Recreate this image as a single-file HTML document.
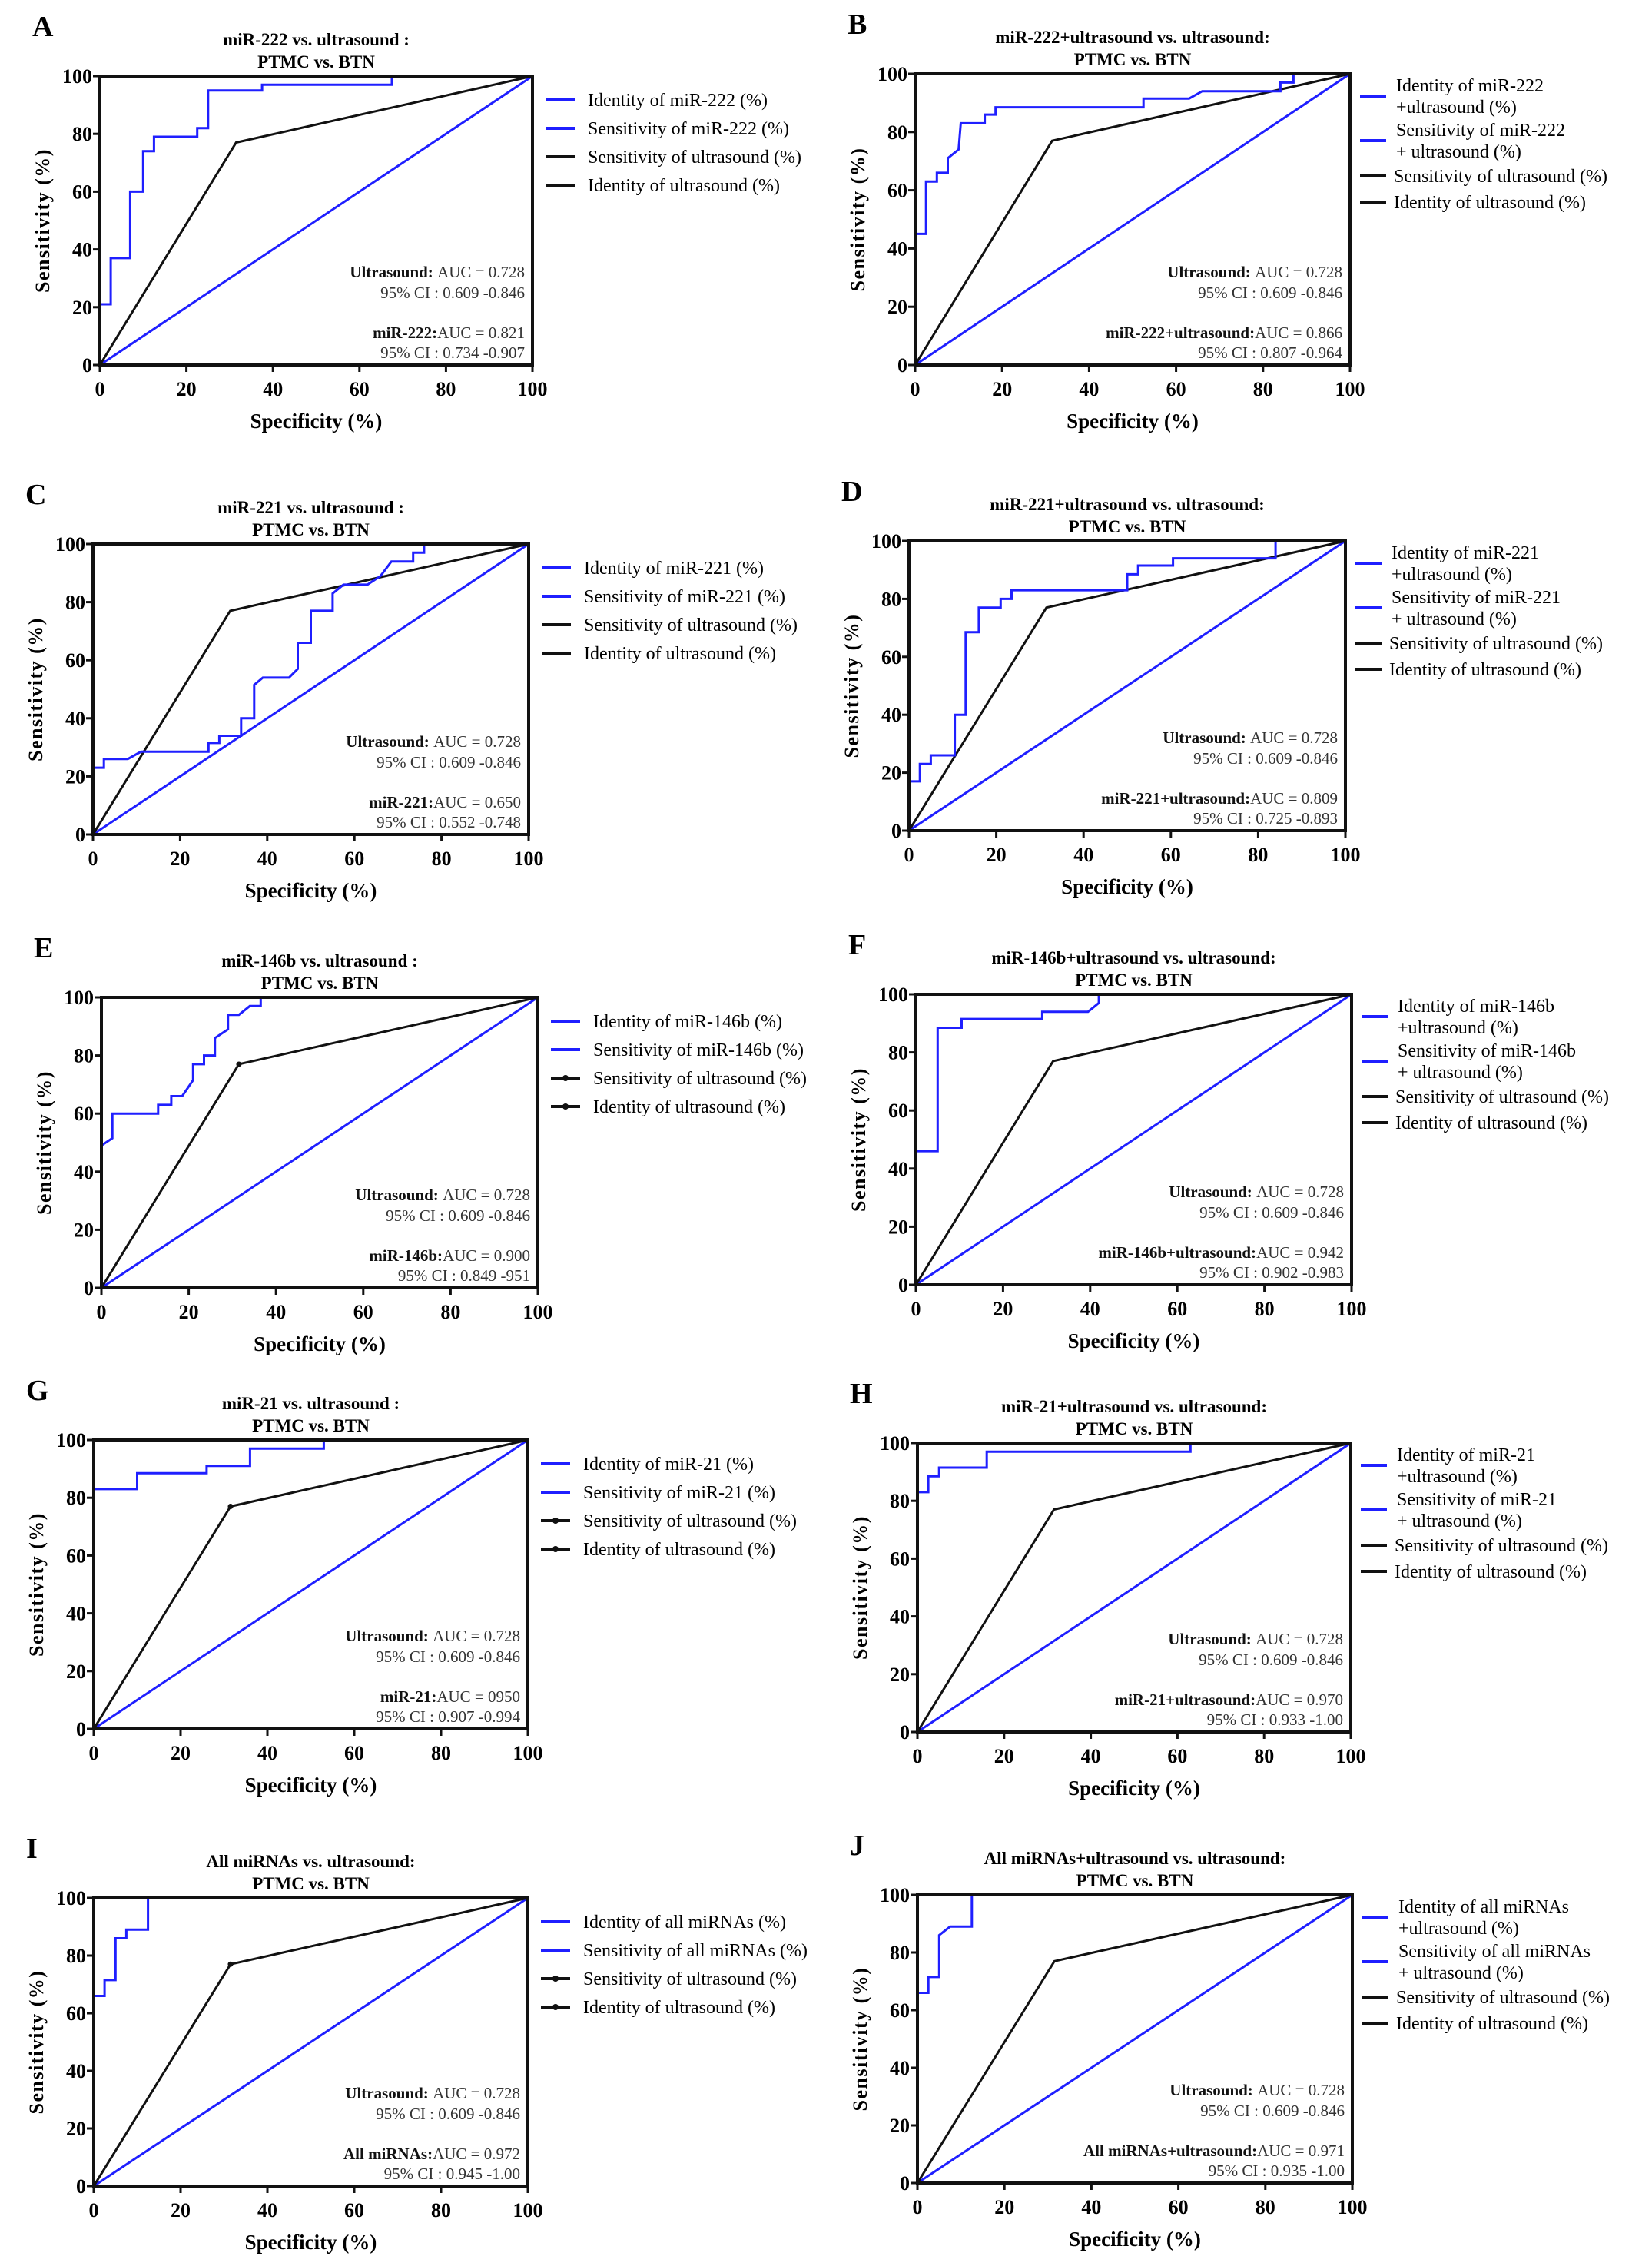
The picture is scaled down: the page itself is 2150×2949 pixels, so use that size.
<!DOCTYPE html>
<html><head><meta charset="utf-8"><style>
html,body{margin:0;padding:0;background:#fff;}
svg{display:block;font-family:"Liberation Serif",serif;}
</style></head><body>
<svg id="fig" width="2150" height="2949" viewBox="0 0 2150 2949" xmlns="http://www.w3.org/2000/svg"></svg>
<script>
const ticks = [0,20,40,60,80,100];
const usX = [0,31.5,100];
const usY = [0,77,100];
const diagX = [0,100];
const diagY = [0,100];
const rocA_x = [0,0,2.5,2.5,7,7,10,10,12.5,12.5,22.5,22.5,25,25,37.5,37.5,67.5,67.5,100];
const rocA_y = [0,21,21,37,37,60,60,74,74,79,79,82,82,95,95,97,97,100,100];
const rocB_x = [0,0,2.5,2.5,5,5,7.5,7.5,10,10.5,16,16,18.5,18.5,52.5,52.5,63,66,84,84,87,87,100];
const rocB_y = [0,45,45,63,63,66,66,71,74,83,83,86,86,88.5,88.5,91.5,91.5,94,94,97,97,100,100];
const rocC_x = [0,0,2.5,2.5,8,11,26.5,26.5,29,29,34,34,37,37,39,45,47,47,50,50,55,55,57.5,63,66,68.5,73.5,73.5,76,76,100];
const rocC_y = [0,23,23,26,26,28.5,28.5,31.5,31.5,34,34,40,40,51.5,54,54,57,66,66,77,77,83,86,86,89,94,94,97,97,100,100];
const rocD_x = [0,0,2.5,2.5,5,5,10.5,10.5,13,13,16,16,21,21,23.5,23.5,50,50,52.5,52.5,60.5,60.5,84,84,100];
const rocD_y = [0,17,17,23,23,26,26,40,40,68.5,68.5,77,77,80,80,83,83,88.5,88.5,91.5,91.5,94,94,100,100];
const rocE_x = [0,0,2.5,2.5,13,13,16,16,18.5,21,21,23.5,23.5,26,26,29,29,31.5,34,36.5,36.5,100];
const rocE_y = [0,49,51.5,60,60,63,63,66,66,71.5,77,77,80,80,86,89,94,94,97,97,100,100];
const rocF_x = [0,0,5,5,10.5,10.5,29,29,39.5,42,42,100];
const rocF_y = [0,46,46,88.5,88.5,91.5,91.5,94,94,97,100,100];
const rocG_x = [0,0,10,10,26,26,36,36,53,53,100];
const rocG_y = [0,83,83,88.5,88.5,91,91,97,97,100,100];
const rocH_x = [0,0,2.5,2.5,5,5,16,16,63,63,100];
const rocH_y = [0,83,83,88.5,88.5,91.5,91.5,97,97,100,100];
const rocI_x = [0,0,2.5,2.5,5,5,7.5,7.5,12.5,12.5,100];
const rocI_y = [0,66,66,71.5,71.5,86,86,89,89,100,100];
const rocJ_x = [0,0,2.5,2.5,5,5,7.5,12.5,12.5,100];
const rocJ_y = [0,66,66,71.5,71.5,86,89,89,100,100];

const NS = "http://www.w3.org/2000/svg";
const svg = document.getElementById('fig');
function mk(tag, attrs, parent, text){
  const e = document.createElementNS(NS, tag);
  for (const k in attrs) e.setAttribute(k, attrs[k]);
  if (text !== undefined) e.textContent = text;
  (parent||svg).appendChild(e);
  return e;
}
const BLUE = "#1f1fff";
const panels = [
 {id:'a',L:'A',l:130,r:693,t:99,b:475,title:['miR-222 vs. ultrasound :','PTMC vs. BTN'],two:false,
  leg:['Identity of miR-222 (%)','Sensitivity of miR-222 (%)','Sensitivity of ultrasound (%)','Identity of ultrasound (%)'],
  ann:['miR-222:','AUC = 0.821','95% CI : 0.734 -0.907'],rx:rocA_x,ry:rocA_y,dots:false},
 {id:'b',L:'B',l:1191,r:1757,t:96,b:475,title:['miR-222+ultrasound vs. ultrasound:','PTMC vs. BTN'],two:true,
  leg:[['Identity of miR-222','+ultrasound (%)'],['Sensitivity of miR-222','+ ultrasound (%)'],'Sensitivity of ultrasound (%)','Identity of ultrasound (%)'],
  ann:['miR-222+ultrasound:','AUC = 0.866','95% CI : 0.807 -0.964'],rx:rocB_x,ry:rocB_y,dots:false},
 {id:'c',L:'C',l:121,r:688,t:708,b:1086,title:['miR-221 vs. ultrasound :','PTMC vs. BTN'],two:false,
  leg:['Identity of miR-221 (%)','Sensitivity of miR-221 (%)','Sensitivity of ultrasound (%)','Identity of ultrasound (%)'],
  ann:['miR-221:','AUC = 0.650','95% CI : 0.552 -0.748'],rx:rocC_x,ry:rocC_y,dots:false},
 {id:'d',L:'D',l:1183,r:1751,t:704,b:1081,title:['miR-221+ultrasound vs. ultrasound:','PTMC vs. BTN'],two:true,
  leg:[['Identity of miR-221','+ultrasound (%)'],['Sensitivity of miR-221','+ ultrasound (%)'],'Sensitivity of ultrasound (%)','Identity of ultrasound (%)'],
  ann:['miR-221+ultrasound:','AUC = 0.809','95% CI : 0.725 -0.893'],rx:rocD_x,ry:rocD_y,dots:false},
 {id:'e',L:'E',l:132,r:700,t:1298,b:1676,title:['miR-146b vs. ultrasound :','PTMC vs. BTN'],two:false,
  leg:['Identity of  miR-146b (%)','Sensitivity of  miR-146b (%)','Sensitivity of ultrasound (%)','Identity of ultrasound (%)'],
  ann:['miR-146b:','AUC = 0.900','95% CI : 0.849 -951'],rx:rocE_x,ry:rocE_y,dots:true},
 {id:'f',L:'F',l:1192,r:1759,t:1294,b:1672,title:['miR-146b+ultrasound vs. ultrasound:','PTMC vs. BTN'],two:true,
  leg:[['Identity of miR-146b','+ultrasound (%)'],['Sensitivity of miR-146b','+ ultrasound (%)'],'Sensitivity of ultrasound (%)','Identity of ultrasound (%)'],
  ann:['miR-146b+ultrasound:','AUC = 0.942','95% CI : 0.902 -0.983'],rx:rocF_x,ry:rocF_y,dots:false},
 {id:'g',L:'G',l:122,r:687,t:1874,b:2250,title:['miR-21 vs. ultrasound :','PTMC vs. BTN'],two:false,
  leg:['Identity of miR-21 (%)','Sensitivity of miR-21 (%)','Sensitivity of ultrasound (%)','Identity of ultrasound (%)'],
  ann:['miR-21:','AUC = 0950','95% CI : 0.907 -0.994'],rx:rocG_x,ry:rocG_y,dots:true},
 {id:'h',L:'H',l:1194,r:1758,t:1878,b:2254,title:['miR-21+ultrasound vs. ultrasound:','PTMC vs. BTN'],two:true,
  leg:[['Identity of miR-21','+ultrasound (%)'],['Sensitivity of miR-21','+ ultrasound (%)'],'Sensitivity of ultrasound (%)','Identity of ultrasound (%)'],
  ann:['miR-21+ultrasound:','AUC = 0.970','95% CI : 0.933 -1.00'],rx:rocH_x,ry:rocH_y,dots:false},
 {id:'i',L:'I',l:122,r:687,t:2470,b:2845,title:['All miRNAs vs. ultrasound:','PTMC vs. BTN'],two:false,
  leg:['Identity of all miRNAs (%)','Sensitivity of all miRNAs (%)','Sensitivity of ultrasound (%)','Identity of ultrasound (%)'],
  ann:['All miRNAs:','AUC = 0.972','95% CI : 0.945 -1.00'],rx:rocI_x,ry:rocI_y,dots:true},
 {id:'j',L:'J',l:1194,r:1760,t:2466,b:2841,title:['All miRNAs+ultrasound vs. ultrasound:','PTMC vs. BTN'],two:true,
  leg:[['Identity of all miRNAs','+ultrasound (%)'],['Sensitivity of all miRNAs','+ ultrasound (%)'],'Sensitivity of ultrasound (%)','Identity of ultrasound (%)'],
  ann:['All miRNAs+ultrasound:','AUC = 0.971','95% CI : 0.935 -1.00'],rx:rocJ_x,ry:rocJ_y,dots:false}
];

function pathFrom(xs, ys, sx, sy){
  let d = '';
  for (let i=0;i<xs.length;i++) d += (i?'L':'M') + sx(xs[i]).toFixed(1) + ' ' + sy(ys[i]).toFixed(1);
  return d;
}

panels.forEach(p=>{
  const g = mk('g',{});
  
  
  const sx = v => p.l + (p.r-p.l)*v/100;
  const sy = v => p.b - (p.b-p.t)*v/100;
  const cx = (p.l+p.r)/2;
  const letter = mk('text',{x:p.l-88,y:p.t-52,'font-size':38,'font-weight':'bold'},g,p.L);
  
  
  p.title.forEach((s,i)=>{
    const t = mk('text',{x:cx,y:p.t-40+i*29,'font-size':23,'font-weight':'bold','text-anchor':'middle'},g,s);
    
    
  });
  // diagonal
  const dg = mk('path',{d:pathFrom(diagX,diagY,sx,sy),stroke:BLUE,'stroke-width':3,fill:'none'},g);
  
  
  // ultrasound
  const us = mk('path',{d:pathFrom(usX,usY,sx,sy),stroke:'#111','stroke-width':3,fill:'none'},g);
  
  
  if (p.dots){
    const m1 = mk('circle',{cx:sx(usX[1]),cy:sy(usY[1]),r:3.5,fill:'#111'},g);
    
    
  }
  // blue roc
  const rc = mk('path',{d:pathFrom(p.rx,p.ry,sx,sy),stroke:BLUE,'stroke-width':3,fill:'none'},g);
  
  
  // frame
  const fr = mk('rect',{x:p.l,y:p.t,width:p.r-p.l,height:p.b-p.t,fill:'none',stroke:'#111','stroke-width':4},g);
  
  
  // ticks
  ticks.forEach(v=>{
    mk('line',{x1:sx(v),x2:sx(v),y1:p.b,y2:p.b+9,stroke:'#111','stroke-width':3},g);
    const xt = mk('text',{x:sx(v),y:p.b+40,'font-size':26,'font-weight':'bold','text-anchor':'middle'},g,String(v));
    
    
    mk('line',{x1:p.l-9,x2:p.l,y1:sy(v),y2:sy(v),stroke:'#111','stroke-width':3},g);
    const yt = mk('text',{x:p.l-10,y:sy(v)+9,'font-size':26,'font-weight':'bold','text-anchor':'end'},g,String(v));
    
    
  });
  const xl = mk('text',{x:cx,y:p.b+82,'font-size':27,'font-weight':'bold','text-anchor':'middle'},g,'Specificity (%)');
  
  
  const ym = (p.t+p.b)/2;
  const yl = mk('text',{x:p.l-66,y:ym,'font-size':26,'font-weight':'bold','text-anchor':'middle','letter-spacing':'1.5',transform:`rotate(-90 ${p.l-66} ${ym})`},g,'Sensitivity (%)');
  
  
  // annotations
  const ax = p.r-10;
  const a1 = mk('text',{x:ax,y:p.b-114,'font-size':21,'text-anchor':'end',fill:'#333'},g);
  
  
  mk('tspan',{'font-weight':'bold',fill:'#111'},a1,'Ultrasound: ');
  mk('tspan',{},a1,'AUC = 0.728');
  const a2 = mk('text',{x:ax,y:p.b-87,'font-size':21,'text-anchor':'end',fill:'#333'},g,'95% CI : 0.609 -0.846');
  
  
  const a3 = mk('text',{x:ax,y:p.b-35,'font-size':21,'text-anchor':'end',fill:'#333'},g);
  
  
  mk('tspan',{'font-weight':'bold',fill:'#111'},a3,p.ann[0]);
  mk('tspan',{},a3,p.ann[1]);
  const a4 = mk('text',{x:ax,y:p.b-9,'font-size':21,'text-anchor':'end',fill:'#333'},g,p.ann[2]);
  
  
  // legend
  const cols = [BLUE,BLUE,'#111','#111'];
  if (!p.two){
    p.leg.forEach((s,i)=>{
      const yy = p.t+31+37*i;
      const le = mk('g',{},g);
      
      
      mk('line',{x1:p.r+17,x2:p.r+55,y1:yy,y2:yy,stroke:cols[i],'stroke-width':4},le);
      if (p.dots && i>=2) mk('circle',{cx:p.r+36,cy:yy,r:4,fill:'#111'},le);
      mk('text',{x:p.r+72,y:yy+8,'font-size':24},le,s);
    });
  } else {
    const lineY = [29,87,133,167];
    p.leg.forEach((s,i)=>{
      const le = mk('g',{},g);
      
      
      const yy = p.t+lineY[i];
      mk('line',{x1:p.r+13,x2:p.r+47,y1:yy,y2:yy,stroke:cols[i],'stroke-width':4},le);
      if (Array.isArray(s)){
        mk('text',{x:p.r+60,y:yy-14+8,'font-size':24},le,s[0]);
        mk('text',{x:p.r+60,y:yy+14+8,'font-size':24},le,s[1]);
      } else {
        mk('text',{x:p.r+57,y:yy+8,'font-size':24},le,s);
      }
    });
  }
});
</script>
</body></html>
